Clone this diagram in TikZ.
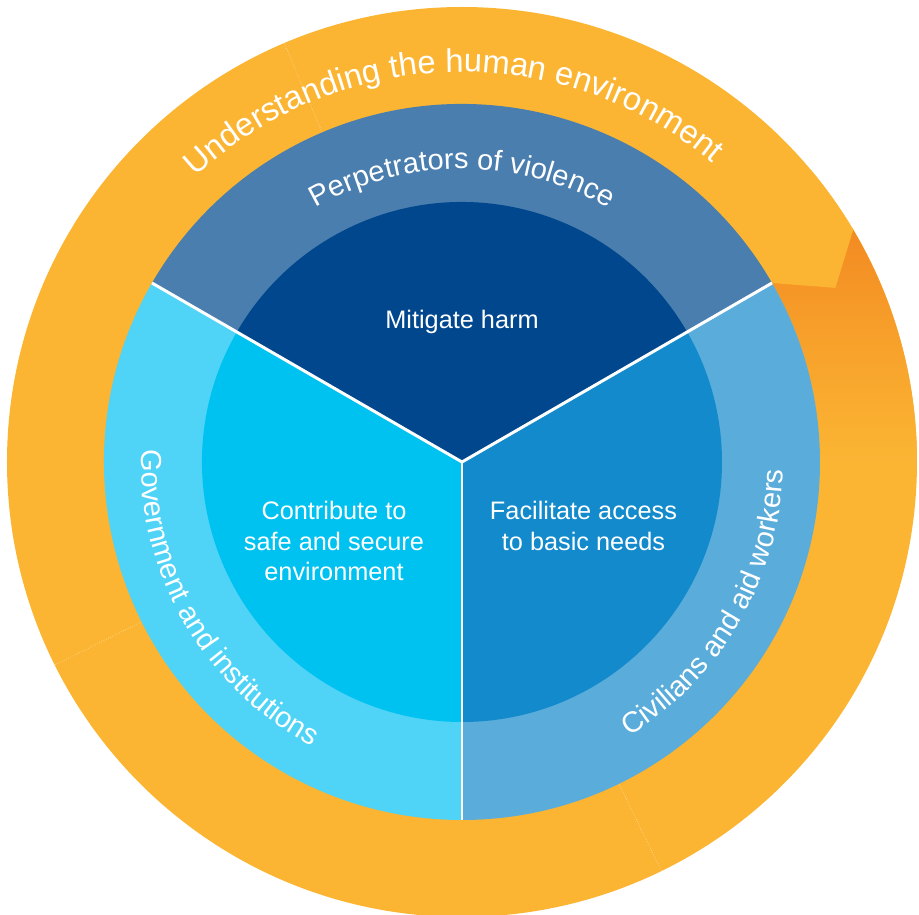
\documentclass[tikz,border=0pt]{standalone}
\usepackage{fontspec}
\setmainfont{Liberation Sans}
\usepackage{xcolor}
\usepackage{tikz}
\usetikzlibrary{decorations.text}

\definecolor{ringorange}{HTML}{FBB533}
\definecolor{tailorange}{HTML}{F38A22}
\definecolor{midtop}{HTML}{4A7EAE}
\definecolor{midleft}{HTML}{4FD3F6}
\definecolor{midright}{HTML}{5AACDA}
\definecolor{coretop}{HTML}{00478D}
\definecolor{coreleft}{HTML}{00C2F0}
\definecolor{coreright}{HTML}{128ACB}

\begin{document}
\begin{tikzpicture}[
    every node/.style={font=\fontsize{14.4}{17.6}\selectfont, text=white, align=center},
    divider/.style={draw=white, line width=1.7pt},
    seam/.style={draw=white, opacity=0.5, densely dotted, line width=0.4pt},
    ring label/.style={decorate, decoration={text along path, text align=center, text color=white, text={#1}}}
]
\useasboundingbox (-9.24,-9.06) rectangle (9.14,9.24);
\coordinate (c) at (0,0);

% Outer ring with arrow tail and head
\fill[ringorange] (c) circle[radius=9.1];
\shade[top color=tailorange, bottom color=ringorange, middle color=tailorange!45!ringorange]
    (0:7.16) -- (0:9.1) arc[start angle=0, end angle=31, radius=9.1]
    -- (31:7.16) arc[start angle=31, end angle=0, radius=7.16] -- cycle;
\fill[ringorange] (30.7:9.1) -- (25:8.24) -- (30:7.16)
    arc[start angle=30, end angle=40, radius=7.16] -- (40:9.1)
    arc[start angle=40, end angle=30.7, radius=9.1] -- cycle;
\foreach \a in {113,206.5,296}
    \draw[seam] (\a:7.16) -- (\a:9.1);

% Middle ring and core sectors
\foreach \a/\ringcol/\corecol in {30/midtop/coretop, 150/midleft/coreleft, 270/midright/coreright} {
    \fill[\ringcol] (c) -- (\a:7.16) arc[start angle=\a, end angle=\a+120, radius=7.16] -- cycle;
    \fill[\corecol] (c) -- (\a:5.2) arc[start angle=\a, end angle=\a+120, radius=5.2] -- cycle;
}
\foreach \a in {30,150,270}
    \draw[divider] (c) -- (\a:7.16);

% Core labels
\node (harm) at (0,2.8) {Mitigate harm};
\node (secure) at (-2.56,-1.58) {Contribute to\\safe and secure\\environment};
\node (access) at (2.43,-1.27) {Facilitate access\\to basic needs};

% Ring labels
\path[ring label={|\fontsize{16.5}{20}\selectfont|Perpetrators of violence}]
    (150:5.86) arc[start angle=150, end angle=30, radius=5.86];
\path[ring label={|\fontsize{16.5}{20}\selectfont|Government and institutions}]
    (160:6.42) arc[start angle=160, end angle=260, radius=6.42];
\path[ring label={|\fontsize{16.5}{20}\selectfont|Civilians and aid workers}]
    (280:6.42) arc[start angle=280, end angle=380, radius=6.42];
\path[ring label={|\fontsize{18.6}{22}\selectfont|Understanding the human environment}]
    (171.5:7.8) arc[start angle=171.5, end angle=11.5, radius=7.8];

\end{tikzpicture}
\end{document}
